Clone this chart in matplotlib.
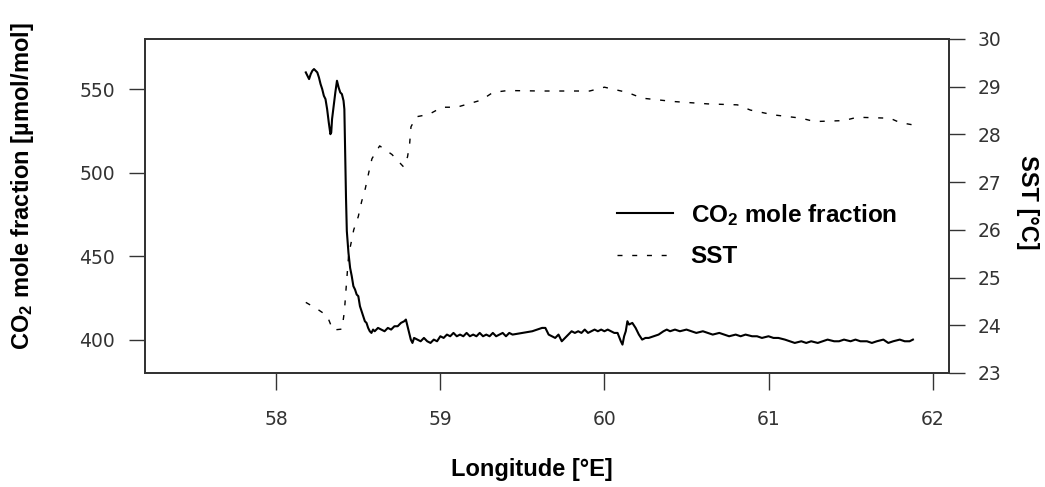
import matplotlib
matplotlib.use('Agg')
import matplotlib.pyplot as plt
import numpy as np

## CO2 mole fraction along the cruise track
co2Lon = [58.18, 58.19, 58.20, 58.21, 58.22, 58.23, 58.24, 58.25, 58.26, 58.27,
          58.28, 58.29, 58.30, 58.31, 58.32, 58.33, 58.335, 58.34, 58.35, 58.36,
          58.37, 58.38, 58.39, 58.40, 58.41, 58.415, 58.42, 58.425, 58.43, 58.44,
          58.45, 58.46, 58.47, 58.48, 58.49, 58.50, 58.51, 58.52, 58.53, 58.54,
          58.55, 58.56, 58.57, 58.58, 58.59, 58.60, 58.62, 58.64, 58.66, 58.68,
          58.70, 58.72, 58.74, 58.76, 58.78, 58.79, 58.80, 58.81, 58.82, 58.83,
          58.84, 58.86, 58.88, 58.90, 58.92, 58.94, 58.96, 58.98, 59.00, 59.02,
          59.04, 59.06, 59.08, 59.10, 59.12, 59.14, 59.16, 59.18, 59.20, 59.22,
          59.24, 59.26, 59.28, 59.30, 59.32, 59.34, 59.36, 59.38, 59.40, 59.42,
          59.44, 59.50, 59.56, 59.62, 59.64, 59.66, 59.68, 59.70, 59.72, 59.74,
          59.76, 59.78, 59.80, 59.82, 59.84, 59.86, 59.88, 59.90, 59.92, 59.94,
          59.96, 59.98, 60.00, 60.02, 60.04, 60.06, 60.08, 60.10, 60.11, 60.12,
          60.13, 60.14, 60.15, 60.17, 60.19, 60.21, 60.23, 60.25, 60.27, 60.30,
          60.33, 60.36, 60.38, 60.40, 60.43, 60.46, 60.50, 60.53, 60.56, 60.60,
          60.63, 60.66, 60.70, 60.73, 60.76, 60.80, 60.83, 60.86, 60.90, 60.93,
          60.96, 61.00, 61.03, 61.06, 61.10, 61.13, 61.16, 61.20, 61.23, 61.26,
          61.30, 61.33, 61.36, 61.40, 61.43, 61.46, 61.50, 61.53, 61.56, 61.60,
          61.63, 61.66, 61.70, 61.73, 61.76, 61.80, 61.83, 61.86, 61.88]
co2Val = [560, 558, 556, 559, 561, 562, 561, 560, 557, 553,
          550, 546, 544, 538, 530, 523, 524, 532, 540, 548,
          555, 551, 548, 547, 543, 538, 512, 485, 465, 452,
          443, 438, 432, 430, 427, 426, 420, 417, 414, 411,
          410, 407, 405, 404, 406, 405, 407, 406, 405, 407,
          406, 408, 408, 410, 411, 412, 408, 404, 400, 398,
          401, 400, 399, 401, 399, 398, 400, 399, 402, 401,
          403, 402, 404, 402, 403, 402, 404, 402, 403, 402,
          404, 402, 403, 402, 404, 402, 403, 404, 402, 404,
          403, 404, 405, 407, 407, 403, 402, 401, 403, 399,
          401, 403, 405, 404, 405, 404, 406, 404, 405, 406,
          405, 406, 405, 406, 405, 404, 404, 399, 397, 402,
          405, 411, 409, 410, 407, 403, 400, 401, 401, 402,
          403, 405, 406, 405, 406, 405, 406, 405, 404, 405,
          404, 403, 404, 403, 402, 403, 402, 403, 402, 402,
          401, 402, 401, 401, 400, 399, 398, 399, 398, 399,
          398, 399, 400, 399, 399, 400, 399, 400, 399, 399,
          398, 399, 400, 398, 399, 400, 399, 399, 400]

## sea surface temperature
sstLon = [58.18, 58.25, 58.31, 58.345, 58.40, 58.415, 58.427, 58.441, 58.472, 58.50,
          58.52, 58.543, 58.563, 58.583, 58.63, 58.705, 58.776, 58.80, 58.813, 58.821,
          58.854, 58.93, 59.01, 59.10, 59.18, 59.25, 59.32, 59.41, 59.61, 59.91,
          60.00, 60.14, 60.23, 60.42, 60.63, 60.81, 60.89, 61.03, 61.20, 61.28,
          61.46, 61.54, 61.74, 61.80, 61.88]
sstVal = [24.48, 24.34, 24.20, 23.90, 23.92, 24.28, 24.84, 25.47, 26.00, 26.28,
          26.59, 26.87, 27.19, 27.49, 27.76, 27.58, 27.32, 27.53, 27.81, 28.16,
          28.37, 28.42, 28.57, 28.57, 28.65, 28.72, 28.88, 28.92, 28.91, 28.91,
          28.99, 28.88, 28.76, 28.69, 28.64, 28.62, 28.51, 28.41, 28.34, 28.27,
          28.29, 28.36, 28.34, 28.25, 28.20]

xTicks = [58, 59, 60, 61, 62]
co2Ticks = [400, 450, 500, 550]
sstTicks = [23, 24, 25, 26, 27, 28, 29, 30]

plt.rcParams['mathtext.default'] = 'regular'
labelFont = ['Liberation Sans', 'DejaVu Sans']
tickFont = 'DejaVu Sans'
spineCol = '#333333'

fig = plt.figure(figsize=(10.45, 4.87), dpi=100)
ax = fig.add_axes([145/1045, 1-373/487, 804/1045, 334/487])
ax2 = ax.twinx()

co2Line, = ax.plot(co2Lon, co2Val, color='black', lw=1.5)
sstLine, = ax2.plot(sstLon, sstVal, color='black', lw=1.0, ls=(0, (3.6, 7.0)))

ax.set_xlim(57.2, 62.1)
ax.set_ylim(380, 580)
ax2.set_ylim(23, 30)
ax.set_xticks(xTicks)
ax.set_yticks(co2Ticks)
ax2.set_yticks(sstTicks)

for a in [ax, ax2]:
    for s in a.spines.values():
        s.set_color(spineCol)
        s.set_linewidth(1.3)
ax.tick_params(axis='x', direction='out', length=12.5, width=1, color=spineCol,
               pad=14, labelsize=13.5, labelcolor='#333333')
ax.tick_params(axis='y', direction='out', length=11.5, width=1, color=spineCol,
               pad=10, labelsize=13.5, labelcolor='#333333')
ax2.tick_params(axis='y', direction='out', length=11.5, width=1, color=spineCol,
                pad=9, labelsize=13.5, labelcolor='#333333')
for lab in ax.get_xticklabels() + ax.get_yticklabels() + ax2.get_yticklabels():
    lab.set_family(tickFont)

ax.set_xlabel('Longitude [°E]', family=labelFont, fontweight='bold', fontsize=17)
ax.xaxis.set_label_coords(0.481, -0.253)
ax.set_ylabel('CO$_2$ mole fraction [µmol/mol]', family=labelFont,
              fontweight='bold', fontsize=17)
ax.yaxis.set_label_coords(-0.136, 0.56)
ax2.set_ylabel('SST [°C]', family=labelFont, fontweight='bold', fontsize=17,
               rotation=270, va='center')
ax2.yaxis.set_label_coords(1.098, 0.51)

leg = ax.legend([co2Line, sstLine], ['CO$_2$ mole fraction', 'SST'],
                frameon=False, loc='upper left',
                bbox_to_anchor=(595/1045, 1-180/487), bbox_transform=fig.transFigure,
                handlelength=2.3, handletextpad=0.74, labelspacing=0.72,
                prop={'family': labelFont, 'weight': 'bold', 'size': 17.5})

fig.savefig('out.png', dpi=100)
